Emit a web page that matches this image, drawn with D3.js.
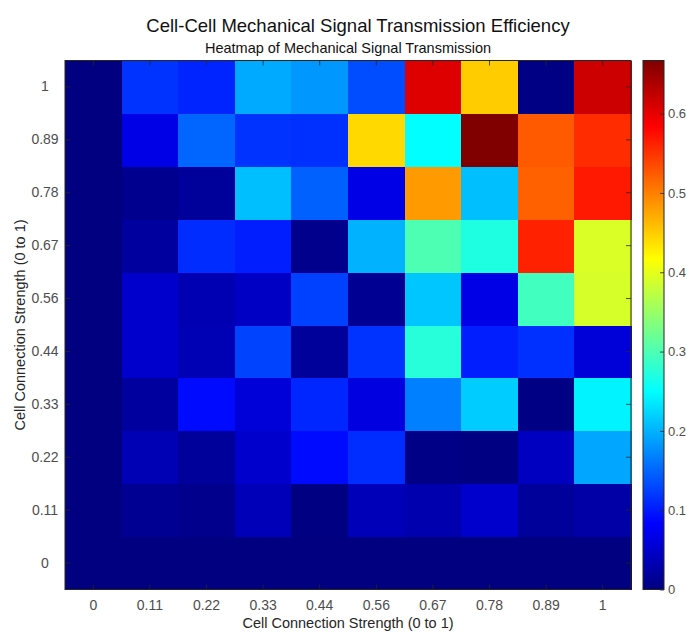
<!DOCTYPE html>
<html>
<head>
<meta charset="utf-8">
<script src="https://cdn.jsdelivr.net/npm/d3@7"></script>
<style>
  body { margin: 0; background: #fff; }
  text { font-family: "Liberation Sans", Arial, sans-serif; }
</style>
</head>
<body>
<div id="chart"></div>
<script>
// axis categories (same for both axes)
const xLabels = ["0", "0.11", "0.22", "0.33", "0.44", "0.56", "0.67", "0.78", "0.89", "1"];
const yLabels = ["0", "0.11", "0.22", "0.33", "0.44", "0.56", "0.67", "0.78", "0.89", "1"];

// transmission efficiency, one row per y value (bottom row first)
const row0   = [0, 0,     0,     0,     0,     0,     0,     0,     0,     0];
const row011 = [0, 0.012, 0.008, 0.037, 0.002, 0.037, 0.030, 0.050, 0.017, 0.025];
const row022 = [0, 0.035, 0.018, 0.050, 0.090, 0.113, 0.004, 0.002, 0.042, 0.192];
const row033 = [0, 0.020, 0.090, 0.058, 0.108, 0.063, 0.167, 0.217, 0.003, 0.242];
const row044 = [0, 0.050, 0.035, 0.127, 0.017, 0.117, 0.275, 0.103, 0.115, 0.058];
const row056 = [0, 0.050, 0.033, 0.045, 0.125, 0.012, 0.213, 0.067, 0.292, 0.390];
const row067 = [0, 0.020, 0.112, 0.103, 0.008, 0.200, 0.300, 0.270, 0.562, 0.392];
const row078 = [0, 0.010, 0.017, 0.208, 0.147, 0.067, 0.483, 0.208, 0.520, 0.567];
const row089 = [0, 0.067, 0.150, 0.117, 0.115, 0.442, 0.250, 0.667, 0.525, 0.555];
const row1   = [0, 0.117, 0.107, 0.195, 0.183, 0.133, 0.605, 0.450, 0.003, 0.617];
const rows = [row0, row011, row022, row033, row044, row056, row067, row078, row089, row1];

const colorTicks = [0, 0.1, 0.2, 0.3, 0.4, 0.5, 0.6];

const W = 687, H = 633;
const plot = { left: 65, right: 631, top: 60.5, bottom: 589.5 };
const cbar = { left: 643, right: 664 };

const svg = d3.select("#chart").append("svg")
    .attr("width", W)
    .attr("height", H);

// flatten into cells
let cells = [];
rows.forEach((r, yi) => {
    r.forEach((v, xi) => cells.push({ x: xLabels[xi], y: yLabels[yi], v: v }));
});

let x = d3.scaleBand().domain(xLabels).range([plot.left, plot.right]);
let y = d3.scaleBand().domain(yLabels).range([plot.bottom, plot.top]);

let vmax = d3.max(cells, d => d.v);

// jet colormap
let jet = d3.scaleLinear()
    .domain([0, 0.125, 0.375, 0.625, 0.875, 1].map(t => t * vmax))
    .range(["#000080", "#0000ff", "#00ffff", "#ffff00", "#ff0000", "#800000"])
    .clamp(true);

svg.append("g")
    .attr("shape-rendering", "crispEdges")
    .selectAll("rect")
    .data(cells)
    .enter()
    .append("rect")
    .attr("x", d => x(d.x))
    .attr("y", d => y(d.y))
    .attr("width", x.bandwidth() + 0.5)
    .attr("height", y.bandwidth() + 0.5)
    .attr("fill", d => jet(d.v));

// axes (ticks pointing inward at cell centres)
const tickCol = "#262626";
const labCol = "#4d4d4d";
let tickLen = 5;

let gx = svg.append("g").attr("transform", "translate(0," + plot.bottom + ")");
gx.call(d3.axisBottom(x).tickSizeInner(-tickLen).tickSizeOuter(0).tickPadding(11));
let gxTop = svg.append("g").attr("transform", "translate(0," + plot.top + ")");
gxTop.call(d3.axisTop(x).tickSizeInner(-tickLen).tickSizeOuter(0).tickFormat(""));
let gy = svg.append("g").attr("transform", "translate(" + plot.left + ",0)");
gy.call(d3.axisLeft(y).tickSizeInner(-tickLen).tickSizeOuter(0).tickPadding(20));
let gyRight = svg.append("g").attr("transform", "translate(" + plot.right + ",0)");
gyRight.call(d3.axisRight(y).tickSizeInner(-tickLen).tickSizeOuter(0).tickFormat(""));

[gx, gxTop, gy, gyRight].forEach(g => {
    g.select(".domain").remove();
    g.selectAll(".tick line").attr("stroke", tickCol).attr("stroke-width", 0.8);
    g.selectAll("text").attr("fill", labCol).style("font-size", "14px");
});
gy.selectAll("text").attr("text-anchor", "middle");

svg.append("rect")
    .attr("x", plot.left)
    .attr("y", plot.top)
    .attr("width", plot.right - plot.left)
    .attr("height", plot.bottom - plot.top)
    .attr("fill", "none")
    .attr("stroke", tickCol)
    .attr("stroke-width", 1);

// colorbar
let cScale = d3.scaleLinear().domain([0, vmax]).range([plot.bottom, plot.top]);

let defs = svg.append("defs");
let grad = defs.append("linearGradient")
    .attr("id", "jetGrad")
    .attr("x1", 0).attr("y1", 1)
    .attr("x2", 0).attr("y2", 0);
d3.range(0, 1.0001, 0.025).forEach(t => {
    grad.append("stop")
        .attr("offset", t)
        .attr("stop-color", jet(t * vmax));
});

svg.append("rect")
    .attr("x", cbar.left)
    .attr("y", plot.top)
    .attr("width", cbar.right - cbar.left)
    .attr("height", plot.bottom - plot.top)
    .attr("fill", "url(#jetGrad)")
    .attr("stroke", tickCol)
    .attr("stroke-width", 1);

let gc = svg.append("g").attr("transform", "translate(" + cbar.right + ",0)");
gc.call(d3.axisRight(cScale).tickValues(colorTicks).tickFormat(d3.format("")).tickSizeInner(-4).tickSizeOuter(0).tickPadding(4));
gc.select(".domain").remove();
gc.selectAll(".tick line").attr("stroke", tickCol).attr("stroke-width", 0.8);
gc.selectAll("text").attr("fill", labCol).style("font-size", "13px");

// titles
svg.append("text")
    .attr("x", 358)
    .attr("y", 31.5)
    .attr("text-anchor", "middle")
    .style("font-size", "18.5px")
    .attr("fill", "#111")
    .text("Cell-Cell Mechanical Signal Transmission Efficiency");

svg.append("text")
    .attr("x", 348)
    .attr("y", 53)
    .attr("text-anchor", "middle")
    .style("font-size", "14.5px")
    .attr("fill", "#111")
    .text("Heatmap of Mechanical Signal Transmission");

svg.append("text")
    .attr("x", (plot.left + plot.right) / 2)
    .attr("y", 628)
    .attr("text-anchor", "middle")
    .style("font-size", "14.5px")
    .attr("fill", "#262626")
    .text("Cell Connection Strength (0 to 1)");

svg.append("text")
    .attr("transform", "translate(25," + ((plot.top + plot.bottom) / 2) + ") rotate(-90)")
    .attr("text-anchor", "middle")
    .style("font-size", "14.5px")
    .attr("fill", "#262626")
    .text("Cell Connection Strength (0 to 1)");
</script>
</body>
</html>
